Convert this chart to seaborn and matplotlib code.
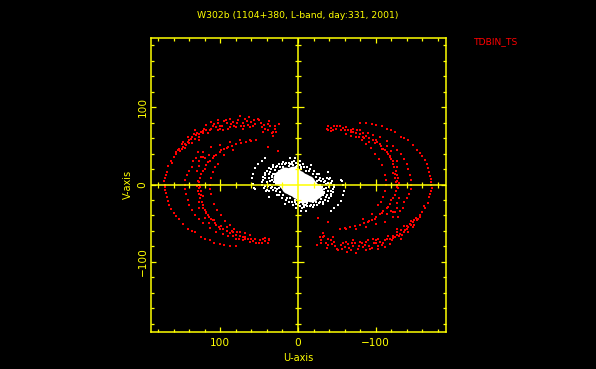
import numpy as np
import pandas as pd
import matplotlib
matplotlib.use("Agg")
import matplotlib.pyplot as plt
import seaborn as sns
from matplotlib.ticker import MultipleLocator

TITLE = "W302b (1104+380, L-band, day:331, 2001)"
SOURCE = "TDBIN_TS"
XLABEL = "U-axis"
YLABEL = "V-axis"
LIMIT = 190

# half of the (u, v) plane; the other half is its conjugate (-u, -v)
red_outer_arc = [(157,40),(160,36),(162,28),(163,31),(167,24),(169,16),(170,12),(171,9),(172,4),(171,0),(171,-3),(171,-7),
    (170,-11),(169,-16),(168,-21),(166,-27),(163,-32),(160,-37),(157,-41),(153,-45),(148,-51),(142,-57),(137,-60),(133,-62),
    (125,-68),(120,-70),(114,-72),(108,-75),(101,-77),(95,-78),(88,-79),(80,-80)]
red_top_band = [(155,44),(148,49),(142,55),(133,59),(123,66),(116,67),(101,72),(90,72),(80,74),(71,72),(62,74),(45,68),(32,63),(28,68),
    (148,55),(142,62),(133,70),(118,77),(103,83),(88,85),(75,88),(63,87),(52,85),(37,82),(24,78),
    (140,57),(131,64),(125,68),(112,72),(103,79),(92,79),(84,81),(71,79),(60,81),(47,74),(39,78),(32,68),(157,42),(153,46),(144,51),(138,59),
    (128,62),(130,66),(121,72),(110,75),(98,75),(95,82),(82,76),(77,84),(66,82),(55,78),(50,83),(42,72),(36,75),(30,72),
    (150,52),(146,47),(136,54),(127,58),(118,71),(26,43),(39,49),
    (152,43),(149,46),(146,52),(141,53),(137,61),(134,65),(127,65),(122,69),(114,70),(108,78),(100,76),(96,71),(93,84),(86,78),
    (79,79),(74,75),(68,85),(65,77),(57,83),(58,75),(48,79),(44,77),(39,70),(34,66),(29,75),(106,74),(112,81),(87,74),(103,71),(69,76)]
red_mid_arc = [(62,57),(75,57),(88,55),(101,51),(112,49),(123,42),(131,34),(137,23),(140,17),(143,12),(145,6),(145,0),(145,-6),(144,-12),
    (142,-20),(140,-27),(137,-33),(133,-39),(128,-45),(123,-50),(114,-56),(105,-61),(97,-64),(90,-67),(80,-70),(71,-72),(62,-74),(54,-76),(46,-76),(39,-76)]
red_ridge = [(54,57),(67,55),(80,52),(90,49),(101,42),(110,34),(118,25),(125,14),(128,0),(127,-12),(123,-27),(116,-39),(105,-52),(88,-63),(71,-68),(49,-72),(37,-72),
    (129,5),(128,-5),(126,-18),(120,-33),(110,-46),(97,-58),(80,-65),(60,-70),(43,-73),(120,20),(114,30),(105,38),(95,46),(85,50),(73,54),(60,56),
    (126,8),(122,18),(116,29),(108,37),(99,44),(92,47),(124,-22),(118,-35),(112,-44),(102,-55),(92,-60),(75,-66),(65,-71),(55,-70),(45,-70),(38,-70),(50,-76),
    (130,-2),(127,3),(125,-8),(122,-15),(129,-9),(126,-3),(127,-22),(122,-30),(115,-42),(107,-50),(99,-54),(84,-62),(68,-70),(58,-73),(42,-69),
    (84,-66),(76,-70),(119,-37),(125,-13)]
red_inner_arc = [(84,44),(95,38),(103,27),(107,22),(110,16),(112,8),(113,0),(113,-6),(112,-12),(108,-25),(104,-33),(99,-40),(94,-47),(88,-52),(82,-57),(75,-61),(68,-63),(62,-65)]
red_scatter = [(129,42),(125,36),(120,34),(115,38),(135,30),(130,18),(128,24),(123,36),(127,31),
    (128,-30),(120,-43),(115,-50),(108,-46),(100,-57),(92,-55),(85,-60),(78,-62),(68,-68)]

white_rings = [(43,34),(47,31),(51,26),(55,21),(58,14),(59,8),(58,1),(57,-5),(55,-6),
    (32,25),(38,21),(43,15),(45,10),(46,3),(44,-5),(41,-9),(38,-16),(40,-7),(45,6),(46,0),
    (19,29),(25,27),(32,23),(36,16),(38,8),(36,-1),(32,-7),(25,-14),(17,-25),(6,-27),(10,34),(4,34),(-2,31),
    (28,23),(21,26),(15,28),(8,29),(0,26),(-4,23),(32,14),(34,6),(33,-3),(28,-9),(21,-18),(12,-22),(2,-25),(-5,-31),(-11,-28),
    (19,23),(12,24),(6,25),(24,18),(30,8),(28,1),(25,-5),(19,-14),(10,-18),(4,-20),(-3,-22),
    (42,12),(40,3),(42,-2),(37,13),(35,20),(30,19),(27,24),(23,22),(17,26),(10,27),(3,28),(36,4),(35,-4),(30,-5),(39,-2),(43,8),
    (33,10),(31,3),(27,-6),(23,-10),(16,-20),(8,-22),(-1,-24),(-8,-26),(40,18),(34,11),(29,14),(26,9),(37,-8),(27,-13),(14,-17)]
white_core_u = [17, 9, 0, 16, 7, 22, 6, 12, 0]
white_core_v = [12, 6, 0, 3, 14, 8, -4, -2, 8]

def frame(points):
    df = pd.DataFrame(points, columns=["u", "v"])
    return pd.concat([df, -df], ignore_index=True)

red = frame(red_outer_arc + red_top_band + red_mid_arc + red_ridge + red_inner_arc + red_scatter)
white = frame(white_rings)
core = frame(list(zip(white_core_u, white_core_v)))

YEL = "#ffff00"
sns.set_theme(style="dark", rc={"figure.facecolor": "black", "axes.facecolor": "black"})
plt.rcParams["font.family"] = ["DejaVu Sans"]

fig = plt.figure(figsize=(5.96, 3.69), dpi=100, facecolor="black")
ax = fig.add_axes([150.5/596, (369-331.5)/369, 295/596, 294/369], facecolor="black")

kw = dict(ax=ax, x="u", y="v", marker="s", linewidth=0, legend=False, zorder=3)
sns.scatterplot(data=red, color="#ff0000", s=3.0, **kw)
sns.scatterplot(data=white, color="#ffffff", s=4.0, **kw)
sns.scatterplot(data=core, x="u", y="v", ax=ax, color="#ffffff", marker="o", s=130, linewidth=0, legend=False, zorder=3)

ax.set_xlim(LIMIT, -LIMIT)
ax.set_ylim(-LIMIT, LIMIT)
ax.set_xlabel("")
ax.set_ylabel("")

for sp in ax.spines.values():
    sp.set_color(YEL)
    sp.set_linewidth(1.1)

for axis in (ax.xaxis, ax.yaxis):
    axis.set_major_locator(MultipleLocator(100))
    axis.set_minor_locator(MultipleLocator(20))
ax.tick_params(which="both", direction="in", top=True, right=True, left=True, bottom=True, color=YEL, width=0.9)
ax.tick_params(which="major", length=3.8, labelsize=7.6, labelcolor=YEL)
ax.tick_params(which="minor", length=2.2)
ax.tick_params(axis="x", which="major", pad=5)
ax.tick_params(axis="y", which="major", pad=2)
for lab in ax.get_yticklabels():
    lab.set_rotation(90)
    lab.set_va("center")
ax.grid(False)

# cross through the origin, with its own ticks
ax.axhline(0, color=YEL, lw=1.1, zorder=4)
ax.axvline(0, color=YEL, lw=1.1, zorder=4)
minor = [t for t in range(-180, 181, 20) if t % 100 != 0]
major = [-100, 100]
ax.plot(minor, [0]*len(minor), ls="", marker="|", ms=5, mew=0.9, color=YEL, zorder=4)
ax.plot(major, [0]*len(major), ls="", marker="|", ms=9, mew=0.9, color=YEL, zorder=4)
ax.plot([0]*len(minor), minor, ls="", marker="_", ms=5, mew=0.9, color=YEL, zorder=4)
ax.plot([0]*len(major), major, ls="", marker="_", ms=9, mew=0.9, color=YEL, zorder=4)

fig.text(298/596, 1-16/369, TITLE, color=YEL, fontsize=6.7, ha="center", va="center")
fig.text(298/596, 1-358/369, XLABEL, color=YEL, fontsize=7.0, ha="center", va="center")
fig.text(128/596, 1-184.5/369, YLABEL, color=YEL, fontsize=7.0, ha="center", va="center", rotation=90)
fig.text(474/596, 1-41.5/369, SOURCE, color="#ff0000", fontsize=6.6, ha="left", va="center")

fig.savefig("out.png", dpi=100, facecolor="black")
